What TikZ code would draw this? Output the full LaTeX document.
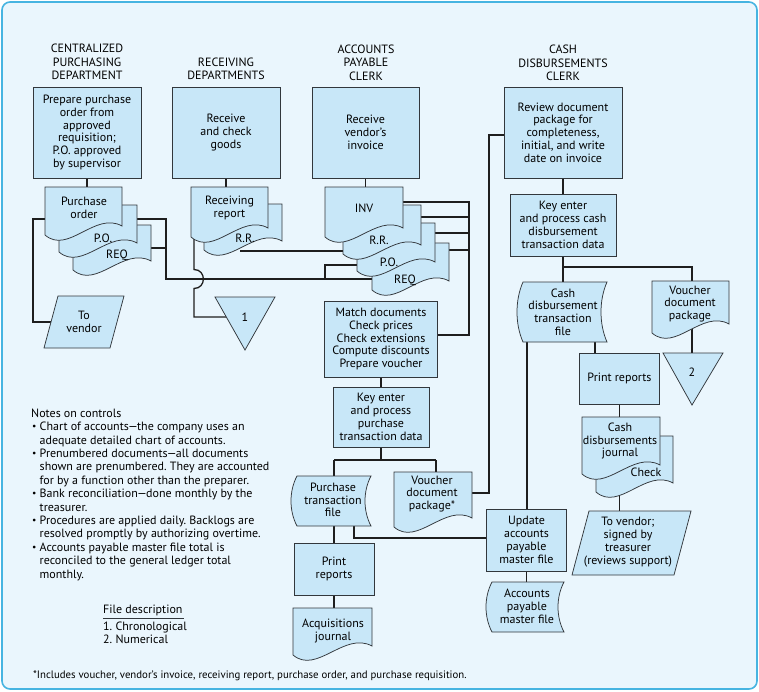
\documentclass[tikz,border=0pt]{standalone}
\usepackage{fontspec}
\setmainfont{PT Sans}
\usepackage{graphicx}
\frenchspacing
\definecolor{bgcol}{RGB}{234,246,253}
\definecolor{fillcol}{RGB}{200,231,248}
\definecolor{framecol}{RGB}{70,180,225}
\definecolor{edgecol}{RGB}{50,55,60}
\definecolor{linecol}{RGB}{30,30,30}
\newcommand{\boxfont}{\fontsize{12}{12.8}\selectfont}
\newcommand{\mdash}{\kern-0.8pt—\kern-0.8pt}
\newcommand{\mybul}{\hspace*{1pt}\makebox[7.5pt][l]{\raisebox{0.15ex}{\scalebox{0.8}{•}}}}
\newcommand{\mycont}{\hspace*{8.5pt}}
\newcommand{\mydoc}[4]{%
  \filldraw[shp] (#1,#2) -- (#3,#2) -- (#3,{#4-9}) .. controls ({#1+0.65*(#3-#1)},{#4-24}) and ({#1+0.3*(#3-#1)},{#4+20}) .. (#1,#4) -- cycle;}
\newcommand{\mystored}[4]{%
  \filldraw[shp] (#1,#2) -- (#3,#2) .. controls ({#3-8},{#2+0.3*(#4-#2)}) and ({#3-8},{#4-0.3*(#4-#2)}) .. (#3,#4) -- (#1,#4) .. controls ({#1-8},{#4-0.3*(#4-#2)}) and ({#1-8},{#2+0.3*(#4-#2)}) .. (#1,#2) -- cycle;}
\pgfdeclarelayer{bglayer}
\pgfdeclarelayer{lineslayer}
\pgfsetlayers{bglayer,lineslayer,main}
\tikzset{
  conn/.style={draw=linecol, line width=1.3pt},
  shp/.style={draw=edgecol, fill=fillcol, line width=0.75pt},
  boxn/.style={shp, rectangle, align=center, inner sep=0pt, font=\boxfont},
  txt/.style={align=center, inner sep=0pt, font=\boxfont},
  head/.style={align=center, inner sep=0pt, font=\fontsize{12}{13.5}\selectfont},
  notefont/.style={inner sep=0pt, font=\fontsize{12}{13.4}\selectfont},
}
\begin{document}
\begin{tikzpicture}[x=1pt,y=-1pt]
\useasboundingbox (0,0) rectangle (759,691);
\begin{pgfonlayer}{bglayer}
  \fill[white] (0,0) rectangle (759,691);
  \draw[draw=framecol, line width=1.6pt, fill=bgcol, rounded corners=8pt] (2,2) rectangle (757,689);
\end{pgfonlayer}

% headings
\node[head] (h1) at (87,62) {CENTRALIZED\\PURCHASING\\DEPARTMENT};
\node[head] (h2) at (226,69) {RECEIVING\\DEPARTMENTS};
\node[head] (h3) at (366,62.5) {ACCOUNTS\\PAYABLE\\CLERK};
\node[head] (h4) at (563,63) {CASH\\DISBURSEMENTS\\CLERK};

% process boxes
\node[boxn, minimum width=108pt, minimum height=91pt] (b1) at (87,132.5) {Prepare purchase\\order from\\approved\\requisition;\\P.O. approved\\by supervisor};
\node[boxn, minimum width=108pt, minimum height=91pt] (b2) at (226,132.5) {Receive\\and check\\goods};
\node[boxn, minimum width=107pt, minimum height=91pt] (b3) at (365.5,132.5) {Receive\\vendor’s\\invoice};
\node[boxn, minimum width=118pt, minimum height=91pt] (b4) at (563,132.5) {Review document\\package for\\completeness,\\initial, and write\\date on invoice};
\node[boxn, minimum width=106pt, minimum height=62pt] (b5) at (563,225) {Key enter\\and process cash\\disbursement\\transaction data};
\node[boxn, minimum width=113pt, minimum height=76pt] (match) at (381,339) {Match documents\\Check prices\\Check extensions\\Compute discounts\\Prepare voucher};
\node[boxn, minimum width=96pt, minimum height=60pt] (keyp) at (381,417) {Key enter\\and process\\purchase\\transaction data};
\node[boxn, minimum width=80pt, minimum height=52pt] (prl) at (334,569) {Print\\reports};
\node[boxn, minimum width=80pt, minimum height=51pt] (pr) at (619.5,378.5) {Print reports};
\node[boxn, minimum width=80pt, minimum height=62pt] (upd) at (526.5,540) {Update\\accounts\\payable\\master file};

% purchasing documents
\mydoc{73}{225}{151}{270}
\node[txt] (req1) at (117,255) {REQ};
\mydoc{59}{205}{137}{252}
\node[txt] (po1) at (103,238) {P.O.};
\mydoc{45}{187}{122}{235}
\node[txt] (pof) at (84,208) {Purchase\\order};

% receiving documents
\mydoc{204}{204}{282}{250}
\node[txt] (rr1) at (245,238) {R.R.};
\mydoc{191}{187}{268}{237}
\node[txt] (rrf) at (229.5,208) {Receiving\\report};

% accounts payable documents
\mydoc{372}{243}{449}{290}
\node[txt] (req2) at (405,280) {REQ};
\mydoc{357}{223}{435}{271}
\node[txt] (po2) at (389,262) {P.O.};
\mydoc{343}{205}{421}{254}
\node[txt] (rr2) at (379,240) {R.R.};
\mydoc{325}{187}{403}{237}
\node[txt] (inv) at (364,208) {INV};

% voucher packages, journals
\mydoc{394}{472}{472}{527}
\node[txt] (vm) at (432,494) {Voucher\\document\\package*};
\mydoc{652}{281}{729}{333}
\node[txt] (vr) at (690,304) {Voucher\\document\\package};
\mydoc{293}{608}{372}{655}
\node[txt] (acq) at (333,631) {Acquisitions\\journal};
\mydoc{596}{436}{673}{492}
\node[txt] (chk) at (646,472) {Check};
\mydoc{582}{417}{660}{474}
\node[txt] (cdj) at (620,441) {Cash\\disbursements\\journal};

% stored data files
\mystored{297}{476}{371}{526}
\node[txt] (ptf) at (333,500) {Purchase\\transaction\\file};
\mystored{523}{282}{607}{342}
\node[txt] (cdf) at (563,312) {Cash\\disbursement\\transaction\\file};
\mystored{492}{582}{564}{632}
\node[txt] (apm) at (527,606) {Accounts\\payable\\master file};

% parallelograms
\filldraw[shp] (58,296) -- (124,296) -- (110,348) -- (44,348) -- cycle;
\node[txt] (tv1) at (84,322) {To\\vendor};
\filldraw[shp] (589,511) -- (691,511) -- (674,575) -- (572,575) -- cycle;
\node[txt] (tv2) at (628,542) {To vendor;\\signed by\\treasurer\\(reviews support)};

% off-page connectors
\filldraw[shp] (215,297) -- (275,297) -- (245,350) -- cycle;
\node[txt] (t1) at (245,317) {1};
\filldraw[shp] (663,353) -- (723,353) -- (692,405) -- cycle;
\node[txt] (t2) at (692,372) {2};

% notes
\node[notefont, anchor=north west, align=left] (notes) at (31,408.5) {%
Notes on controls\\
\mybul Chart of accounts\mdash the company uses an\\
\mycont adequate detailed chart of accounts.\\
\mybul Prenumbered documents\mdash all documents\\
\mycont shown are prenumbered. They are accounted\\
\mycont for by a function other than the preparer.\\
\mybul Bank reconciliation\mdash done monthly by the\\
\mycont treasurer.\\
\mybul Procedures are applied daily. Backlogs are\\
\mycont resolved promptly by authorizing overtime.\\
\mybul Accounts payable master file total is\\
\mycont reconciled to the general ledger total\\
\mycont monthly.};
\node[notefont, anchor=north west] (fd) at (103,604.5) {File description};
\draw[draw=edgecol, line width=0.5pt] ([yshift=-2.5pt]fd.south west) -- ([yshift=-2.5pt,xshift=1pt]fd.south east);
\node[notefont, anchor=north west, align=left] (fdl) at (103,621.5) {1. Chronological\\2. Numerical};
\node[anchor=west, inner sep=0pt, font=\fontsize{10.8}{12}\selectfont] (foot) at (33,676) {*Includes voucher, vendor’s invoice, receiving report, purchase order, and purchase requisition.};

% connection points
\coordinate (pof-w) at (55,219);
\coordinate (lft) at (33,219);
\coordinate (po1-e) at (130,219);
\coordinate (pbus) at (166,219);
\coordinate (req1-e) at (145,248);
\coordinate (hline) at (166,279);
\coordinate (req2-w) at (380,279);
\coordinate (br) at (325,279);
\coordinate (br2) at (325,265);
\coordinate (po2-w) at (365,265);
\coordinate (rrf-s) at (194,230);
\coordinate (jmp-a) at (194,269.5);
\coordinate (jmp-b) at (194,288.5);
\coordinate (t1-w) at (194,317);
\coordinate (rr-e) at (240,251);
\coordinate (rr2-w) at (350,251);
\coordinate (inv-e) at (395,202);
\coordinate (rr2-e) at (415,217);
\coordinate (po2-e) at (430,233);
\coordinate (req2-e) at (440,250);
\coordinate (bus-t) at (469,202);
\coordinate (bus-b) at (469,335);
\coordinate (kj) at (381,460);
\coordinate (kl) at (334,460);
\coordinate (kr) at (436,460);
\coordinate (vm-e) at (460,493);
\coordinate (vbus-b) at (489,493);
\coordinate (vbus-t) at (489,135);
\coordinate (ptf-s) at (354,515);
\coordinate (ul) at (354,538);
\coordinate (j1) at (563,267);
\coordinate (j2) at (692,267);
\coordinate (cdfb1) at (595,330);
\coordinate (cdfb2) at (527,330);

\begin{pgfonlayer}{lineslayer}
  % purchasing
  \draw[conn] (b1.south) -- (b1.south |- pof);
  \draw[conn] (pof-w) -- (lft) |- (tv1);
  \draw[conn] (po1-e) -- (pbus) -- (hline) -- (req2-w);
  \draw[conn] (req1-e) -- (req1-e -| pbus);
  \draw[conn] (br) -- (br2) -- (po2-w);
  % receiving
  \draw[conn] (b2.south) -- (b2.south |- rrf);
  \draw[conn] (rrf-s) -- (jmp-a) .. controls +(12.5,0) and +(12.5,0) .. (jmp-b) -- (t1-w) -- (t1);
  \draw[conn] (rr-e) -- (rr2-w);
  % accounts payable
  \draw[conn] (b3) -- (b3 |- inv);
  \draw[conn] (inv-e) -- (bus-t) -- (bus-b) -- (bus-b -| match);
  \draw[conn] (rr2-e) -- (rr2-e -| bus-t);
  \draw[conn] (po2-e) -- (po2-e -| bus-t);
  \draw[conn] (req2-e) -- (req2-e -| bus-t);
  \draw[conn] (match) -- (keyp) -- (kj);
  \draw[conn] (kl) -- (kr);
  \draw[conn] (kl) -- (kl |- ptf);
  \draw[conn] (kr) -- (kr |- vm);
  \draw[conn] (vm-e) -- (vbus-b) -- (vbus-t) -- (vbus-t -| b4);
  \draw[conn] (prl |- ptf) -- (prl) -- (prl |- acq);
  \draw[conn] (ptf-s) -- (ul) -- (ul -| upd);
  \draw[conn] (upd) -- (upd |- apm);
  % cash disbursements
  \draw[conn] (b4) -- (b5) -- (j1) -- (j1 |- cdf);
  \draw[conn] (j1) -- (j2) -- (j2 |- vr) -- (j2 |- t2);
  \draw[conn] (cdfb1) -- (cdfb1 |- pr);
  \draw[conn] (cdfb2) -- (cdfb2 |- upd);
  \draw[conn] (pr) -- (pr |- cdj) -- (pr |- tv2);
\end{pgfonlayer}
\end{tikzpicture}
\end{document}
